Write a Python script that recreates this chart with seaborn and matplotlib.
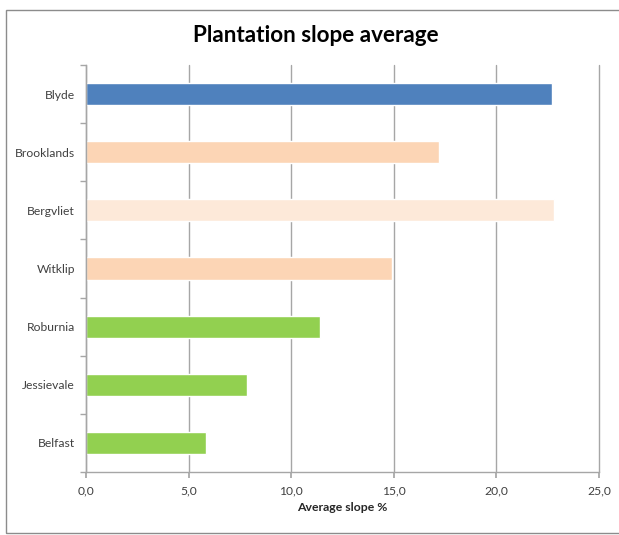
import matplotlib
matplotlib.use("Agg")
import matplotlib.pyplot as plt
import seaborn as sns
import pandas as pd
import numpy as np
from matplotlib.patches import Rectangle
from matplotlib.ticker import FuncFormatter, FixedLocator

categories = ["Blyde", "Brooklands", "Bergvliet", "Witklip", "Roburnia", "Jessievale", "Belfast"]
values = [22.7, 17.2, 22.8, 14.9, 11.4, 7.85, 5.85]
colors = ["#4F81BD", "#FCD5B5", "#FDE9D9", "#FCD5B5", "#92D050", "#92D050", "#92D050"]
x_ticks = [0, 5, 10, 15, 20, 25]

sns.set_theme(style="white")
plt.rcParams["font.family"] = ["Lato", "DejaVu Sans"]

df = pd.DataFrame({"site": categories, "slope": values})

fig = plt.figure(figsize=(6.19, 5.35), dpi=100)
ax = fig.add_axes([86 / 619, 1 - 472 / 535, (599 - 86) / 619, (472 - 65) / 535])

sns.barplot(data=df, y="site", x="slope", hue="site", palette=colors,
            order=categories, hue_order=categories, legend=False,
            width=0.38, saturation=1, ax=ax, orient="h")

ax.set_xlim(0, 25)
ax.set_ylim(len(categories) - 0.5, -0.5)
ax.xaxis.set_major_locator(FixedLocator(x_ticks))
ax.xaxis.set_major_formatter(FuncFormatter(lambda v, p: f"{v:.1f}".replace(".", ",")))
ax.grid(axis="x", color="#A6A6A6", linewidth=1.0)
ax.grid(axis="y", visible=False)
ax.set_axisbelow(True)
for gl in ax.get_xgridlines():
    gl.set_clip_on(False)

for s in ["top", "right"]:
    ax.spines[s].set_visible(False)
for s in ["left", "bottom"]:
    ax.spines[s].set_color("#A6A6A6")
    ax.spines[s].set_linewidth(1.0)

ax.tick_params(axis="y", which="major", length=0, pad=8, labelsize=8.7, labelcolor="#404040")
ax.set_yticks(np.arange(-0.5, len(categories), 1.0), minor=True)
ax.tick_params(axis="y", which="minor", length=4, color="#A6A6A6", left=True)
ax.tick_params(axis="x", which="major", length=4, color="#A6A6A6", bottom=True,
               labelsize=8.7, labelcolor="#404040", pad=6)

ax.set_ylabel("")
ax.set_xlabel("Average slope %", fontsize=8.8, fontweight="bold", color="#262626", labelpad=4)

fig.text(316 / 619, 1 - 35 / 535, "Plantation slope average", ha="center", va="center",
         fontsize=16.2, fontweight="bold", color="#000000")

fig.patches.append(Rectangle((5.5 / 619, 1 - 533 / 535), 1.2, (533 - 10) / 535,
                             transform=fig.transFigure, fill=False,
                             edgecolor="#8C8C8C", linewidth=1.0))

fig.savefig("out.png", dpi=100)
